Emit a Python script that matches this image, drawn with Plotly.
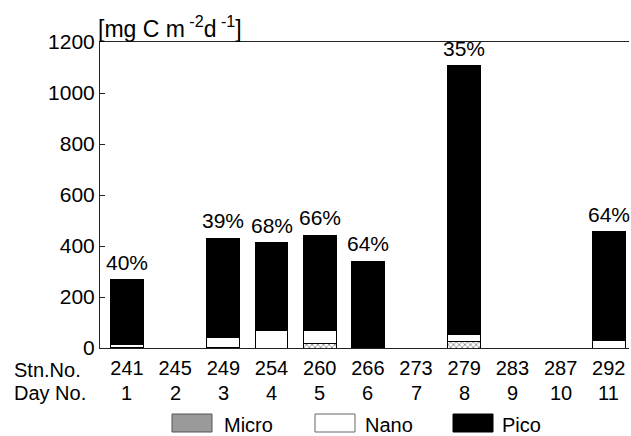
import plotly.graph_objects as go

stations = ['241', '245', '249', '254', '260', '266', '273', '279', '283', '287', '292']
days = ['1', '2', '3', '4', '5', '6', '7', '8', '9', '10', '11']
micro = [2, 0, 2, 0, 18, 0, 0, 27, 0, 0, 0]
nano = [10, 0, 40, 67, 49, 0, 0, 27, 0, 0, 28]
pico = [255, 0, 389, 345, 376, 341, 0, 1052, 0, 0, 427]
percent = ['40%', '', '39%', '68%', '66%', '64%', '', '35%', '', '', '64%']

FONT = "Liberation Sans, Arial, sans-serif"
FS = 20

# pixel geometry helpers (plot area: x 100..629, y 42..348)
L, R, T, B = 100, 2, 42, 88
W, H = 631, 436
PW, PH = W - L - R, H - T - B

def px(x):
    return (x - L) / PW

def py(y):
    return (T + PH - y) / PH

fig = go.Figure()
fig.add_trace(go.Bar(x=stations, y=micro, name='Micro', width=0.68,
                     marker=dict(color='white', line=dict(color='black', width=1),
                                 pattern=dict(shape='x', size=4, fgcolor='#222', bgcolor='white', solidity=0.4))))
fig.add_trace(go.Bar(x=stations, y=nano, name='Nano', width=0.68,
                     marker=dict(color='white', line=dict(color='black', width=1))))
fig.add_trace(go.Bar(x=stations, y=pico, name='Pico', width=0.68,
                     marker=dict(color='black', line=dict(color='black', width=1))))

annotations = []
for i, (m, n, p, t) in enumerate(zip(micro, nano, pico, percent)):
    if t:
        annotations.append(dict(x=i, y=m + n + p, text=t, showarrow=False, xref='x', yref='y',
                                yanchor='bottom', yshift=4, font=dict(size=FS + 1, color='black', family=FONT)))
for i, d in enumerate(days):
    annotations.append(dict(x=i, y=py(393), text=d, showarrow=False, xref='x', yref='paper',
                            yanchor='middle', font=dict(size=FS, color='black', family=FONT)))

annotations.append(dict(x=px(12), y=py(370), text='Stn.No.', showarrow=False, xref='paper', yref='paper',
                        xanchor='left', yanchor='middle', font=dict(size=FS, color='black', family=FONT)))
annotations.append(dict(x=px(12), y=py(393), text='Day No.', showarrow=False, xref='paper', yref='paper',
                        xanchor='left', yanchor='middle', font=dict(size=FS, color='black', family=FONT)))
annotations.append(dict(x=px(96), y=py(27), text='[mg C m<sup> -2</sup>d<sup> -1</sup>]', showarrow=False,
                        xref='paper', yref='paper', xanchor='left', yanchor='middle',
                        font=dict(size=FS + 3, color='black', family=FONT)))

# legend drawn manually
shapes = []
legend_items = [('Micro', 172, 222), ('Nano', 315, 363), ('Pico', 453, 500)]
for name, bx, tx in legend_items:
    fill = {'Micro': '#9a9a9a', 'Nano': 'white', 'Pico': 'black'}[name]
    line = {'Micro': '#555', 'Nano': '#666', 'Pico': 'black'}[name]
    shapes.append(dict(type='rect', xref='paper', yref='paper', x0=px(bx), x1=px(bx + 40),
                       y0=py(432), y1=py(414), fillcolor=fill, line=dict(color=line, width=1)))
    annotations.append(dict(x=px(tx), y=py(425), text=name, showarrow=False, xref='paper', yref='paper',
                            xanchor='left', yanchor='middle', font=dict(size=FS, color='black', family=FONT)))

fig.update_layout(
    barmode='stack',
    width=W, height=H,
    margin=dict(l=L, r=R, t=T, b=B),
    plot_bgcolor='white', paper_bgcolor='white',
    showlegend=False,
    font=dict(family=FONT, size=FS, color='black'),
    annotations=annotations,
    shapes=shapes,
    xaxis=dict(range=[-0.56, 10.42], showline=True, linecolor='#222', linewidth=1, mirror=True,
               ticks='', showgrid=False, tickfont=dict(size=FS, family=FONT, color='black'),
               type='category', ticklabelstandoff=2),
    yaxis=dict(range=[0, 1200], tickvals=[0, 200, 400, 600, 800, 1000, 1200], showline=True,
               linecolor='#222', linewidth=1, ticks='inside', ticklen=5, tickcolor='#222',
               showgrid=False, zeroline=False, tickfont=dict(size=FS + 1, family=FONT, color='black')),
)

fig.write_html("out.html")
